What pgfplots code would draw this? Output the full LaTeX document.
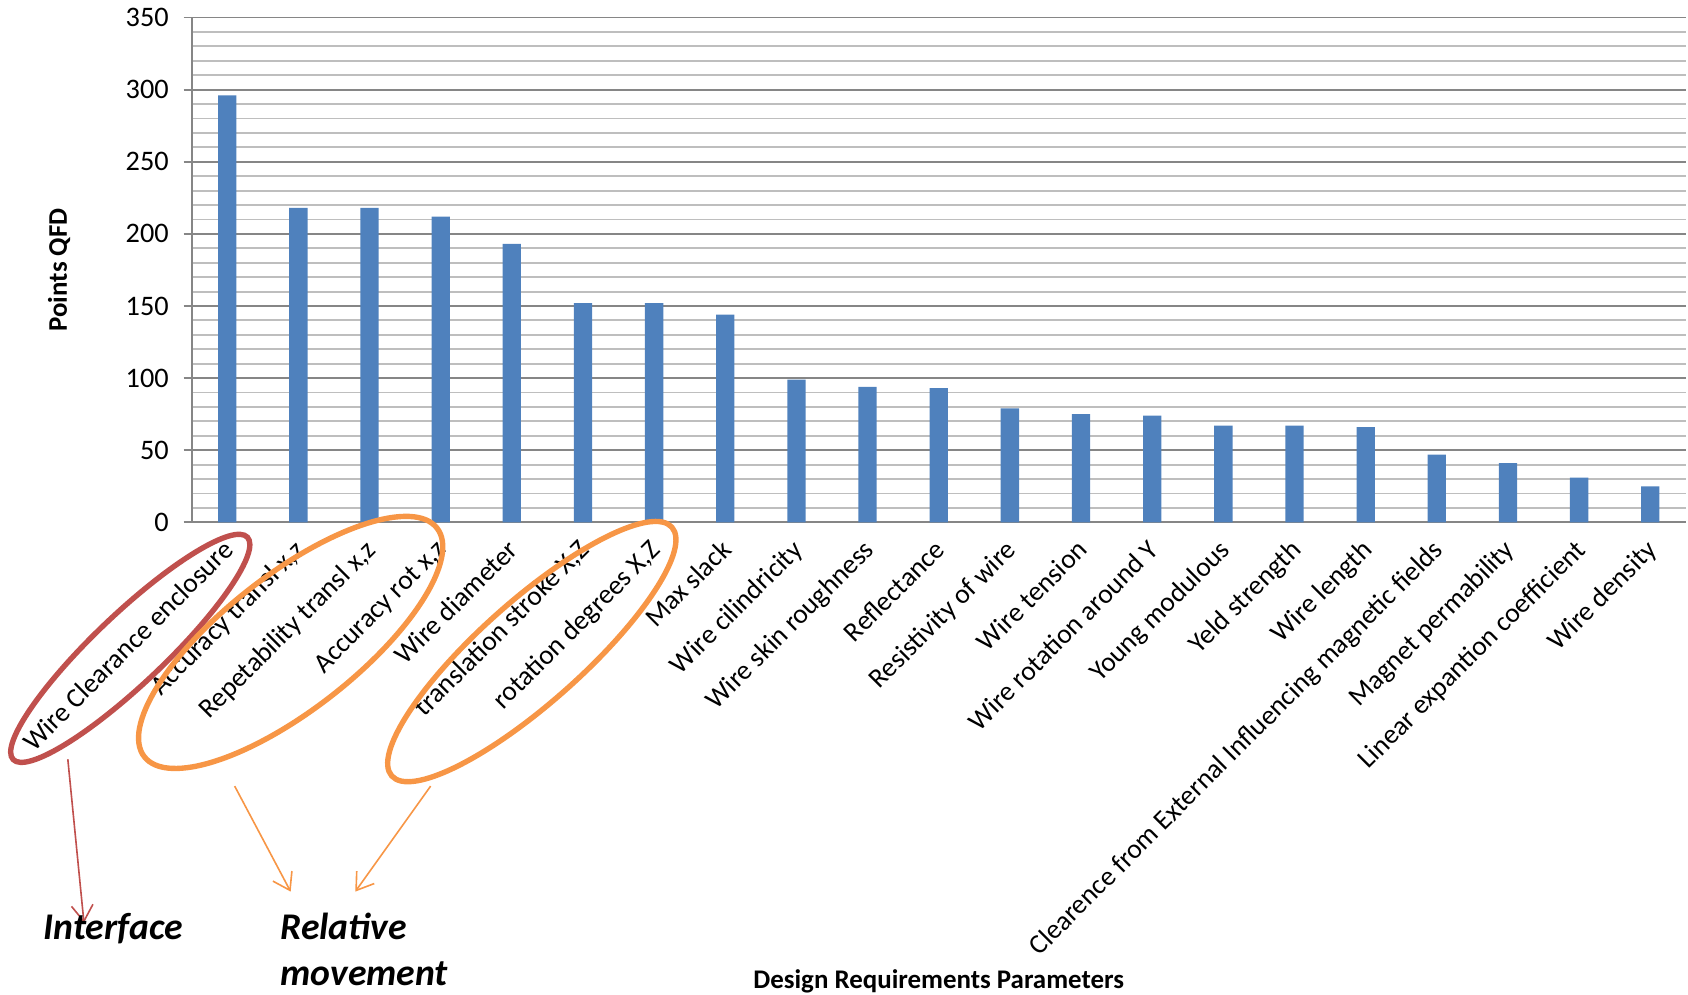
\documentclass[border=0pt]{standalone}
\usepackage{fontspec}
\setmainfont{Carlito}
\usepackage{pgfplots}
\pgfplotsset{compat=1.18}
\usetikzlibrary{arrows.meta}

\definecolor{barblue}{RGB}{79,129,189}
\definecolor{majgray}{RGB}{134,134,134}
\definecolor{mingray}{RGB}{190,190,190}
\definecolor{ellred}{RGB}{192,80,77}
\definecolor{ellorange}{RGB}{247,150,70}

\begin{document}
\begin{tikzpicture}

\begin{axis}[
    at={(71.2pt,175.6pt)}, anchor=south west,
    scale only axis, width=555.2pt, height=187.6pt,
    xmin=0.5, xmax=21.5, ymin=0, ymax=350,
    axis x line*=bottom, axis y line*=left,
    axis line style={draw=majgray, line width=0.7pt, -},
    ybar, bar width=6.8pt,
    ytick={0,50,...,350}, minor y tick num=4,
    ymajorgrids, yminorgrids,
    major grid style={majgray, line width=0.7pt},
    minor grid style={mingray, line width=0.7pt},
    tick align=outside,
    major tick length=3pt, minor tick length=0pt,
    ytick style={majgray, line width=0.7pt},
    xtick style={draw=none},
    xtick={1,...,21},
    xticklabels={Wire Clearance enclosure, {Accuracy transl x,z}, {Repetability transl x,z},
        {Accuracy rot x,z}, Wire diameter, {translation stroke X,Z}, {rotation degrees X,Z},
        Max slack, Wire cilindricity, Wire skin roughness, Reflectance, Resistivity of wire,
        Wire tension, Wire rotation around Y, Young modulous, Yeld strength, Wire length,
        Clearence from External Influencing magnetic fields, Magnet permability,
        Linear expantion coefficient, Wire density},
    /pgf/number format/assume math mode=true,
    yticklabel style={font=\fontsize{10.5}{12}\selectfont, xshift=-2pt},
    xticklabel style={font=\fontsize{10.2}{12}\selectfont, rotate=45, anchor=north east,
        xshift=0pt, yshift=3pt},
    xlabel={\textbf{Design Requirements Parameters}},
    ylabel={\textbf{Points QFD}},
    label style={font=\fontsize{10}{12}\selectfont},
    every axis x label/.style={at={(rel axis cs:0.5,0)}, yshift=-170.4pt, anchor=center},
    every axis y label/.style={at={(rel axis cs:0,0.5)}, xshift=-49.2pt, rotate=90, anchor=center},
]
\addplot[fill=barblue, draw=none] coordinates {
    (1,296) (2,218) (3,218) (4,212) (5,193) (6,152) (7,152) (8,144)
    (9,99) (10,94) (11,93) (12,79) (13,75) (14,74) (15,67) (16,67)
    (17,66) (18,47) (19,41) (20,31) (21,25)
};
\end{axis}

% annotation ellipses
\draw[ellred, line width=2pt, rotate around={43.5:(48.4pt,128.8pt)}]
    (48.4pt,128.8pt) ellipse [x radius=60pt, y radius=13pt];
\draw[ellorange, line width=2pt, rotate around={38:(108pt,131pt)}]
    (108pt,131pt) ellipse [x radius=69pt, y radius=25pt];
\draw[ellorange, line width=2pt, rotate around={41.6:(197.6pt,127.6pt)}]
    (197.6pt,127.6pt) ellipse [x radius=69.6pt, y radius=19pt];

% arrows
\draw[ellred, line width=0.6pt, -{Straight Barb[length=6pt, width=8pt]}] (25.2pt,87.6pt) -- (31.2pt,26.8pt);
\draw[ellorange, line width=0.6pt, -{Straight Barb[length=6pt, width=8pt]}] (87.2pt,77.6pt) -- (108pt,38.4pt);
\draw[ellorange, line width=0.6pt, -{Straight Barb[length=6pt, width=8pt]}] (160pt,77.6pt) -- (132pt,38.4pt);

\node[anchor=west, inner sep=0pt, font=\fontsize{14}{17}\selectfont\bfseries\itshape] at (16pt,24.8pt) {Interface};
\node[anchor=west, inner sep=0pt, align=left, font=\fontsize{14}{17}\selectfont\bfseries\itshape] at (104pt,16.8pt) {Relative\\movement};

\pgfresetboundingbox
\path[use as bounding box] (0,0) rectangle (627.2pt,369.7pt);
\end{tikzpicture}
\end{document}
